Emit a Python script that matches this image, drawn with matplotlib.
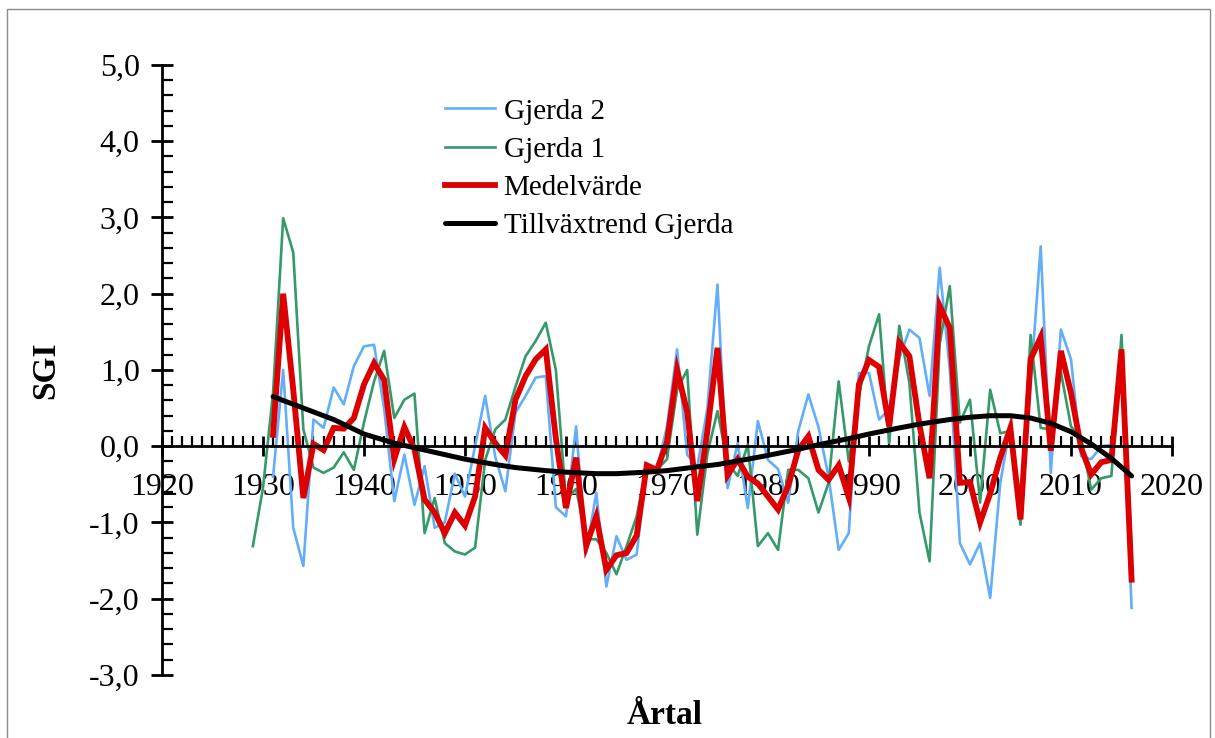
import matplotlib
matplotlib.use("Agg")
import matplotlib.pyplot as plt
from matplotlib.ticker import MultipleLocator, FuncFormatter
from matplotlib.patches import Rectangle

plt.rcParams['font.family'] = ['Liberation Serif', 'DejaVu Serif']

# Gjerda 1 (green), 1929-2016
years_g1 = list(range(1929, 2017))
gjerda1 = [-1.31, -0.55, 0.70, 2.99, 2.54, 0.22, -0.28, -0.35, -0.28, -0.08,
           -0.31, 0.31, 0.85, 1.25, 0.37, 0.61, 0.69, -1.14, -0.68, -1.27,
           -1.38, -1.42, -1.33, -0.18, 0.22, 0.35, 0.78, 1.18, 1.38, 1.62,
           1.00, -0.70, -0.56, -1.22, -1.22, -1.40, -1.68, -1.31, -0.92, -0.26,
           -0.31, -0.17, 0.74, 1.00, -1.16, -0.10, 0.46, -0.22, -0.39, 0.02,
           -1.31, -1.14, -1.36, -0.31, -0.31, -0.42, -0.87, -0.48, 0.85, -0.20,
           0.66, 1.31, 1.73, 0.04, 1.58, 0.83, -0.87, -1.51, 1.34, 2.10,
           0.31, 0.61, -0.74, 0.74, 0.17, 0.20, -1.03, 1.46, 0.24, 0.22,
           0.97, 0.26, 0.10, -0.57, -0.42, -0.39, 1.46, -1.38]

# Gjerda 2 (blue) and Medelvärde (red), 1931-2016
years = list(range(1931, 2017))
gjerda2 = [-0.40, 1.00, -1.07, -1.57, 0.35, 0.24, 0.77, 0.55, 1.05, 1.31,
           1.33, 0.49, -0.72, -0.11, -0.77, -0.26, -1.07, -1.00, -0.36, -0.66,
           0.00, 0.66, -0.14, -0.59, 0.44, 0.66, 0.90, 0.92, -0.80, -0.92,
           0.26, -1.40, -0.61, -1.84, -1.18, -1.49, -1.42, -0.24, -0.31, 0.26,
           1.27, -0.11, -0.28, 0.50, 2.12, -0.55, 0.04, -0.81, 0.33, -0.18,
           -0.30, -0.74, 0.20, 0.68, 0.25, -0.40, -1.36, -1.14, 0.96, 0.96,
           0.35, 0.48, 1.15, 1.53, 1.42, 0.66, 2.34, 1.00, -1.27, -1.55,
           -1.27, -1.99, -0.48, 0.28, -0.89, 0.82, 2.62, -0.35, 1.53, 1.14,
           -0.13, -0.17, 0.00, 0.02, 1.08, -2.12]
medel = [0.15, 2.00, 0.74, -0.68, 0.03, -0.05, 0.24, 0.23, 0.37, 0.81,
         1.09, 0.87, -0.17, 0.25, -0.04, -0.70, -0.87, -1.14, -0.87, -1.04,
         -0.66, 0.24, 0.04, -0.12, 0.61, 0.92, 1.14, 1.27, 0.10, -0.81,
         -0.15, -1.31, -0.92, -1.62, -1.43, -1.40, -1.17, -0.25, -0.31, 0.05,
         1.00, 0.45, -0.72, 0.20, 1.29, -0.38, -0.17, -0.40, -0.49, -0.66,
         -0.83, -0.52, -0.05, 0.13, -0.31, -0.44, -0.25, -0.67, 0.81, 1.13,
         1.04, 0.26, 1.36, 1.18, 0.28, -0.42, 1.84, 1.55, -0.48, -0.47,
         -1.00, -0.62, -0.15, 0.24, -0.96, 1.14, 1.43, -0.06, 1.25, 0.70,
         -0.02, -0.37, -0.21, -0.18, 1.27, -1.75]

# Tillväxtrend Gjerda (black)
trend_years = [1931, 1933, 1935, 1937, 1940, 1943, 1945, 1948, 1950, 1953,
               1955, 1958, 1960, 1963, 1965, 1968, 1970, 1973, 1975, 1978,
               1980, 1983, 1985, 1988, 1990, 1993, 1995, 1998, 2000, 2002,
               2004, 2006, 2008, 2010, 2012, 2014, 2016]
trend = [0.65, 0.55, 0.45, 0.35, 0.16, 0.04, -0.02, -0.11, -0.17, -0.24,
         -0.28, -0.32, -0.34, -0.36, -0.36, -0.34, -0.32, -0.27, -0.24, -0.17,
         -0.12, -0.04, 0.02, 0.10, 0.16, 0.24, 0.29, 0.35, 0.38, 0.40,
         0.40, 0.37, 0.30, 0.19, 0.03, -0.16, -0.39]

fig = plt.figure(figsize=(12.15, 7.38), dpi=100)
ax = fig.add_axes([0.1333, 0.0854, 0.8313, 0.8266])

ax.plot(years, gjerda2, color='#62AEFA', lw=1.9, label='Gjerda 2')
ax.plot(years_g1, gjerda1, color='#35996A', lw=1.9, label='Gjerda 1')
ax.plot(years, medel, color='#DD0000', lw=4.2, label='Medelvärde',
        solid_joinstyle='miter')
ax.plot(trend_years, trend, color='black', lw=3.6, label='Tillväxtrend Gjerda',
        solid_capstyle='round')

ax.set_xlim(1920, 2020)
ax.set_ylim(-3, 5)

for s in ['top', 'right']:
    ax.spines[s].set_visible(False)
ax.spines['bottom'].set_position(('data', 0))
ax.spines['bottom'].set_linewidth(2)
ax.spines['left'].set_linewidth(2)

ax.xaxis.set_major_locator(MultipleLocator(10))
ax.xaxis.set_minor_locator(MultipleLocator(1))
ax.yaxis.set_major_locator(MultipleLocator(1))
ax.yaxis.set_minor_locator(MultipleLocator(0.2))
ax.yaxis.set_major_formatter(FuncFormatter(lambda v, p: f"{v:.1f}".replace('.', ',')))

ax.tick_params(axis='x', which='major', direction='inout', length=14, width=2,
               labelsize=23, pad=12)
ax.tick_params(axis='x', which='minor', direction='in', length=7, width=1.6)
ax.tick_params(axis='y', which='major', direction='inout', length=16, width=2,
               labelsize=23, pad=8)
ax.tick_params(axis='y', which='minor', direction='in', length=8, width=1.6)

ax.set_ylabel('SGI', fontsize=24, fontweight='bold', labelpad=20)
fig.text(665 / 1215, 1 - 716 / 738, 'Årtal', fontsize=24, fontweight='bold',
         ha='center', va='center')

ax.legend(loc='upper left', bbox_to_anchor=(419 / 1215, 1 - 72 / 738),
          bbox_transform=fig.transFigure, frameon=False, fontsize=21,
          handlelength=1.7, handletextpad=0.3, labelspacing=0.4)

fig.patches.append(Rectangle((0.006, -0.01), 0.99, 0.998, transform=fig.transFigure,
                             fill=False, edgecolor='#8c8c8c', lw=1))

fig.savefig('out.png', dpi=100)
